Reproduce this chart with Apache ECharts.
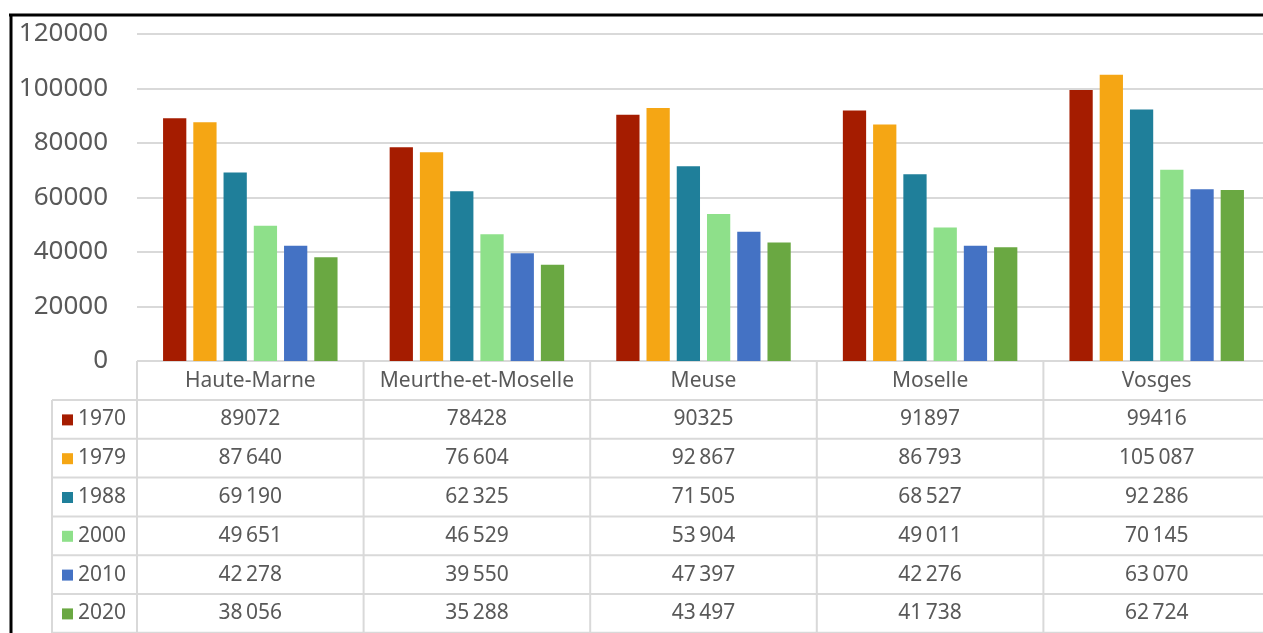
<!DOCTYPE html>
<html>
<head>
<meta charset="utf-8">
<script src="https://cdn.jsdelivr.net/npm/echarts@6/dist/echarts.min.js"></script>
<style>
    html, body { margin: 0; padding: 0; background: #fff; }
    #chart { width: 1263px; height: 633px; }
</style>
</head>
<body>
<div id="chart"></div>
<script>
// données : population par département et par année de recensement
const departements = ["Haute-Marne", "Meurthe-et-Moselle", "Meuse", "Moselle", "Vosges"];
const annees = ["1970", "1979", "1988", "2000", "2010", "2020"];
const pop1970 = [89072, 78428, 90325, 91897, 99416];
const pop1979 = [87640, 76604, 92867, 86793, 105087];
const pop1988 = [69190, 62325, 71505, 68527, 92286];
const pop2000 = [49651, 46529, 53904, 49011, 70145];
const pop2010 = [42278, 39550, 47397, 42276, 63070];
const pop2020 = [38056, 35288, 43497, 41738, 62724];
// 1970 est écrit sans séparateur de milliers dans le tableau
const avecSeparateur = [false, true, true, true, true, true];

const series_data = [pop1970, pop1979, pop1988, pop2000, pop2010, pop2020];
const couleurs = ["#A51C00", "#F5A614", "#1F7F9A", "#8EE08A", "#4472C4", "#6AA842"];

const gris = "#595959";
const ligne = "#D9D9D9";
const police = "'Noto Sans', 'Open Sans', sans-serif";

function formatNombre(v, sep) {
    const s = String(v);
    if (!sep) return s;
    return s.replace(/\B(?=(\d{3})+(?!\d))/g, "\u2009");
}

const chart = echarts.init(document.getElementById("chart"));

// la zone de tracé dépasse un peu à droite de l'image (comme l'original)
chart.setOption({
    animation: false,
    textStyle: { fontFamily: police },
    grid: { left: 137, top: 34, width: 1133, bottom: 272, containLabel: false, outerBoundsMode: "none" },
    xAxis: {
        type: "category",
        data: departements,
        axisLine: { show: false },
        axisTick: { show: false },
        axisLabel: { show: false },
    },
    yAxis: {
        type: "value",
        min: 0,
        max: 120000,
        interval: 20000,
        axisLine: { show: false },
        axisTick: { show: false },
        axisLabel: {
            color: gris,
            fontSize: 26,
            margin: 29,
            fontFamily: police,
            formatter: (v) => String(v),
        },
        splitLine: { lineStyle: { color: ligne, width: 2 } },
    },
    series: annees.map((a, i) => ({
        name: a,
        type: "bar",
        data: series_data[i],
        itemStyle: { color: couleurs[i] },
        barGap: "30%",
        barCategoryGap: "23%",
    })),
});

// tableau de données sous le graphique
const x0 = chart.convertToPixel({ xAxisIndex: 0 }, 0);
const x1 = chart.convertToPixel({ xAxisIndex: 0 }, 1);
const colW = x1 - x0;
const yAxe = 361;
const hauteurEntete = 39;
const hauteurLigne = 38.8;
const gaucheLegende = 52;
const gaucheGrille = 137;
const largeur = chart.getWidth();

const graphic = [];
const trait = (xa, ya, xb, yb, color, w) => ({
    type: "line",
    shape: { x1: xa, y1: ya, x2: xb, y2: yb },
    style: { stroke: color, lineWidth: w },
    silent: true,
});

// lignes horizontales
graphic.push(trait(gaucheGrille, yAxe, largeur, yAxe, ligne, 2));
for (let k = 0; k <= annees.length; k++) {
    const y = yAxe + hauteurEntete + k * hauteurLigne;
    graphic.push(trait(gaucheLegende, y, largeur, y, ligne, 2));
}
// lignes verticales
graphic.push(trait(gaucheLegende, yAxe + hauteurEntete, gaucheLegende, 633, ligne, 2));
for (let i = 0; i <= departements.length; i++) {
    const x = gaucheGrille + i * colW;
    graphic.push(trait(x, yAxe, x, 633, ligne, 2));
}
// en-têtes
departements.forEach((d, i) => {
    graphic.push({
        type: "text",
        x: chart.convertToPixel({ xAxisIndex: 0 }, i),
        y: yAxe + hauteurEntete / 2 + 1,
        style: { text: d, fill: gris, font: `21px ${police}`, align: "center", verticalAlign: "middle" },
    });
});
// lignes du tableau
annees.forEach((a, r) => {
    const yc = yAxe + hauteurEntete + (r + 0.5) * hauteurLigne;
    graphic.push({
        type: "rect",
        shape: { x: 62, y: yc - 5, width: 11, height: 11 },
        style: { fill: couleurs[r] },
    });
    graphic.push({
        type: "text",
        x: 78,
        y: yc,
        style: { text: a, fill: gris, font: `21px ${police}`, align: "left", verticalAlign: "middle" },
    });
    series_data[r].forEach((v, i) => {
        graphic.push({
            type: "text",
            x: chart.convertToPixel({ xAxisIndex: 0 }, i),
            y: yc,
            style: {
                text: formatNombre(v, avecSeparateur[r]),
                fill: gris,
                font: `21px ${police}`,
                align: "center",
                verticalAlign: "middle",
            },
        });
    });
});
// cadre noir
graphic.push(trait(9, 15, largeur, 15, "#000", 3));
graphic.push(trait(11, 14, 11, 633, "#000", 3));

chart.setOption({ graphic: graphic });
</script>
</body>
</html>
